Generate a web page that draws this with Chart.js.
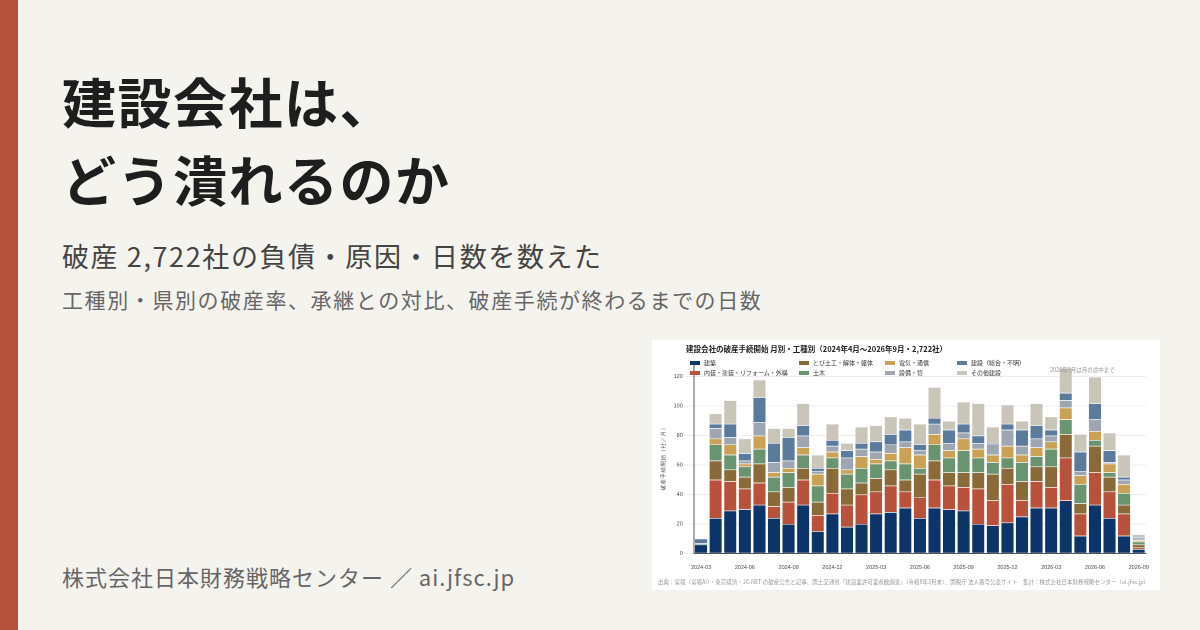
<!DOCTYPE html>
<html><head><meta charset="utf-8">
<script src="https://cdn.jsdelivr.net/npm/chart.js@4"></script>
<style>
body{margin:0;width:1200px;height:630px;background:#f5f3ee;font-family:"Noto Sans CJK JP","Noto Sans",sans-serif;position:relative;overflow:hidden;color:#222}
#bar{position:absolute;left:0;top:0;width:18px;height:630px;background:#b5523b}
h1{position:absolute;left:62px;top:62px;margin:0;font-size:54px;letter-spacing:1.5px;line-height:78px;font-weight:700;color:#1e1e1e}
#sub1{position:absolute;left:62px;top:236px;font-size:27px;letter-spacing:1.6px;color:#444}
#sub2{position:absolute;left:62px;top:284px;font-size:21px;letter-spacing:1.6px;color:#666}
#foot{position:absolute;left:62px;top:560px;font-size:22px;letter-spacing:1px;color:#666}
#box{position:absolute;left:652px;top:340px;width:508px;height:250px;background:#fff}
#ctitle{position:absolute;left:34px;top:3px;font-size:7.5px;font-weight:700;color:#222}
#legend{position:absolute;left:38px;top:18px;display:grid;grid-template-columns:109px 86px 72px 90px;row-gap:1px;font-size:6px;color:#333}
#legend span{display:inline-block;width:10px;height:4px;margin-right:4px;vertical-align:middle}
#note{position:absolute;left:398px;top:26px;font-size:5.5px;color:#999}
#src{position:absolute;left:6px;top:238px;font-size:5.5px;color:#999;white-space:nowrap}
#wrap{position:absolute;left:0;top:12px;width:508px;height:228px}
</style></head><body>
<div id="bar"></div>
<h1>建設会社は、<br>どう潰れるのか</h1>
<div id="sub1">破産 2,722社の負債・原因・日数を数えた</div>
<div id="sub2">工種別・県別の破産率、承継との対比、破産手続が終わるまでの日数</div>
<div id="foot">株式会社日本財務戦略センター ／ ai.jfsc.jp</div>
<div id="box">
<div id="wrap"><canvas id="c" width="508" height="228"></canvas></div>
<div id="ctitle">建設会社の破産手続開始 月別・工種別（2024年4月〜2026年9月・2,722社）</div>
<div id="legend"></div>
<div id="note">2026年9月は月の途中まで</div>
<div id="src">出典：官報（官報AI）・東京経済・JC-NET の破産公告と記事、国土交通省「建設業許可業者数調査」（令和8年3月末）、国税庁 法人番号公表サイト　集計：株式会社日本財務戦略センター（ai.jfsc.jp）</div>
</div>
<script>
const months = [];
for (let y = 2024, m = 3; months.length < 31; m++) {
  if (m > 12) { m = 1; y++; }
  months.push(y + '-' + String(m).padStart(2, '0'));
}
const names = ['建築', '内装・塗装・リフォーム・外構', 'とび土工・解体・躯体', '土木', '電気・通信', '設備・管', '建設（総合・不明）', 'その他建設'];
const colors = ['#0d3468', '#b9523c', '#8a6a38', '#6a9370', '#c9a255', '#9ea7b1', '#5a7b9c', '#c9c5b9'];
const kenchiku = [6,24,29,30,33,24,20,33,15,27,18,20,27,28,31,24,31,30,29,20,19,21,25,31,31,36,12,33,24,12,3];
const naiso   = [0,26,20,14,15,8,15,17,11,14,15,20,15,18,11,14,19,16,16,24,17,26,11,18,14,29,15,22,18,15,1];
const tobi    = [0,13,8,8,13,10,10,8,9,17,11,8,9,11,8,16,13,9,10,11,18,11,13,10,14,16,7,18,10,6,2];
const doboku  = [1,11,10,7,10,10,10,9,11,7,10,10,10,6,11,4,11,10,15,10,8,7,13,7,12,10,13,4,3,8,2];
const denki   = [0,4,7,2,9,3,3,5,8,4,3,8,3,5,11,9,7,5,8,6,5,8,5,6,5,8,6,6,6,6,1];
const setsubi = [0,7,5,2,9,7,5,8,2,4,8,5,5,6,4,3,7,5,4,4,7,11,6,6,4,5,3,8,1,3,1];
const kensetsu= [3,3,9,5,17,13,16,7,2,4,5,4,7,7,8,4,4,9,6,5,1,4,11,9,4,5,13,11,8,2,1];
const sonota  = [0,7,16,10,12,10,6,15,9,11,5,11,11,12,8,14,21,6,15,22,11,13,6,15,9,17,12,18,12,15,2];
const series = [kenchiku, naiso, tobi, doboku, denki, setsubi, kensetsu, sonota];

const lg = document.getElementById('legend');
const order = [0,2,4,6,1,3,5,7];
order.forEach(i => { lg.innerHTML += '<div><span style="background:' + colors[i] + '"></span>' + names[i] + '</div>'; });

new Chart(document.getElementById('c'), {
  type: 'bar',
  data: {
    labels: months,
    datasets: series.map((d, i) => ({ label: names[i], data: d, backgroundColor: colors[i], borderColor: '#fff', borderWidth: {top: 0.6}, categoryPercentage: 0.95, barPercentage: 0.88 }))
  },
  options: {
    responsive: false, animation: false, devicePixelRatio: 2,
    layout: { padding: { left: 4, right: 14, top: 10, bottom: 6 } },
    plugins: { legend: { display: false }, tooltip: { enabled: false } },
    scales: {
      x: { stacked: true, grid: { display: false }, border: { color: '#555' },
        ticks: { autoSkip: false, maxRotation: 0, font: { size: 5.5 }, color: '#444',
          callback: function (v, i) { return i % 3 === 0 ? months[i] : ''; } } },
      y: { stacked: true, min: 0, max: 130, grid: { color: '#eee' }, border: { color: '#555' },
        afterBuildTicks: s => { s.ticks = [0,20,40,60,80,100,120].map(v => ({ value: v })); },
        ticks: { font: { size: 5.5 }, color: '#444' },
        title: { display: true, text: '破産手続開始（社／月）', font: { size: 5.5 }, color: '#444' } }
    }
  }
});
</script>
</body></html>
